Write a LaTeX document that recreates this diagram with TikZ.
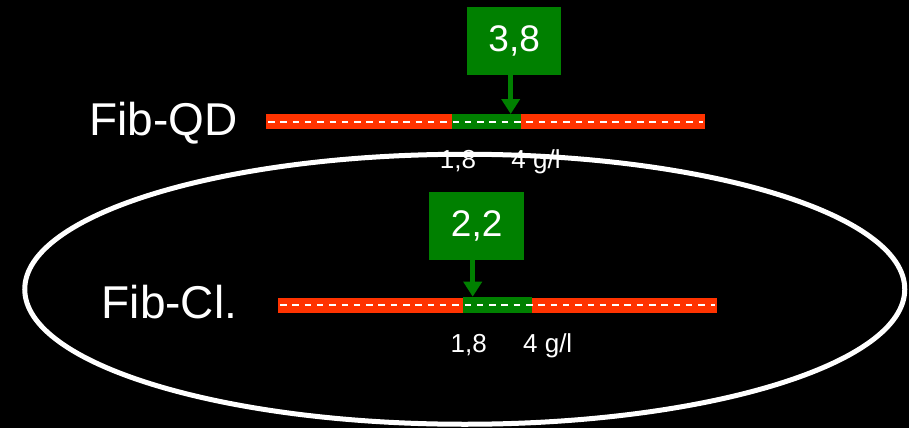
\documentclass[tikz,border=0pt]{standalone}
\usepackage{fontspec}
\setmainfont{Liberation Sans}
\usetikzlibrary{arrows.meta,shapes.geometric}
\definecolor{barred}{RGB}{255,51,0}
\definecolor{bargreen}{RGB}{0,128,0}
\tikzset{
  redbar/.style={fill=barred, draw=none, minimum height=15pt, inner sep=0pt, outer sep=0pt, anchor=west},
  greenseg/.style={fill=bargreen, draw=none, minimum height=15pt, inner sep=0pt, outer sep=0pt, anchor=west},
  valbox/.style={fill=bargreen, draw=none, text=white, inner sep=0pt, outer sep=0pt, font=\fontsize{37}{40}\selectfont},
  biglabel/.style={text=white, inner sep=0pt, anchor=base west, font=\fontsize{46}{50}\selectfont},
  smalllabel/.style={text=white, inner sep=0pt, anchor=base, font=\fontsize{26}{30}\selectfont},
  dashline/.style={draw=white, line width=2pt, dash pattern=on 6.5pt off 5.8pt},
  downarrow/.style={draw=bargreen, line width=5pt, -{Triangle[width=18pt,length=15pt]}},
  ring/.style={draw=white, line width=5pt}
}
\begin{document}
\begin{tikzpicture}[x=1pt,y=-1pt]
\useasboundingbox[fill=black] (0,0) rectangle (909,428);
% top row
\node[biglabel] (qd) at (89,135) {Fib-QD};
\node[redbar, minimum width=439pt] (bar1) at (266,121.5) {};
\node[greenseg, minimum width=69.5pt] (seg1) at (451.7,121.5) {};
\coordinate (d1s) at (268,121.5);
\coordinate (d1e) at (703,121.5);
\draw[dashline] (d1s) -- (d1e);
\node[valbox, minimum width=94pt, minimum height=67.7pt] (box1) at (514.2,41.2) {3,8};
\coordinate (tip1) at (510.7,114);
\draw[downarrow] (box1.south -| tip1) -- (tip1);
\node[smalllabel] (a1) at (458,168) {1,8};
\node[smalllabel] (b1) at (536,168) {4 g/l};
% ellipse
\node[ring, ellipse, minimum width=880pt, minimum height=270pt, inner sep=0pt] (ell) at (464.75,289.25) {};
% bottom row
\node[biglabel] (cl) at (101.5,318.3) {Fib-Cl.};
\node[redbar, minimum width=438.7pt] (bar2) at (278,305.2) {};
\node[greenseg, minimum width=68.7pt, minimum height=16pt] (seg2) at (463,304.7) {};
\coordinate (d2s) at (280,305.2);
\coordinate (d2e) at (715,305.2);
\draw[dashline] (d2s) -- (d2e);
\node[valbox, minimum width=94.7pt, minimum height=67.7pt] (box2) at (476.7,226.2) {2,2};
\coordinate (tip2) at (472.7,296.7);
\draw[downarrow] (box2.south -| tip2) -- (tip2);
\node[smalllabel] (a2) at (468.7,352.7) {1,8};
\node[smalllabel] (b2) at (547.7,352.7) {4 g/l};
\end{tikzpicture}
\end{document}
